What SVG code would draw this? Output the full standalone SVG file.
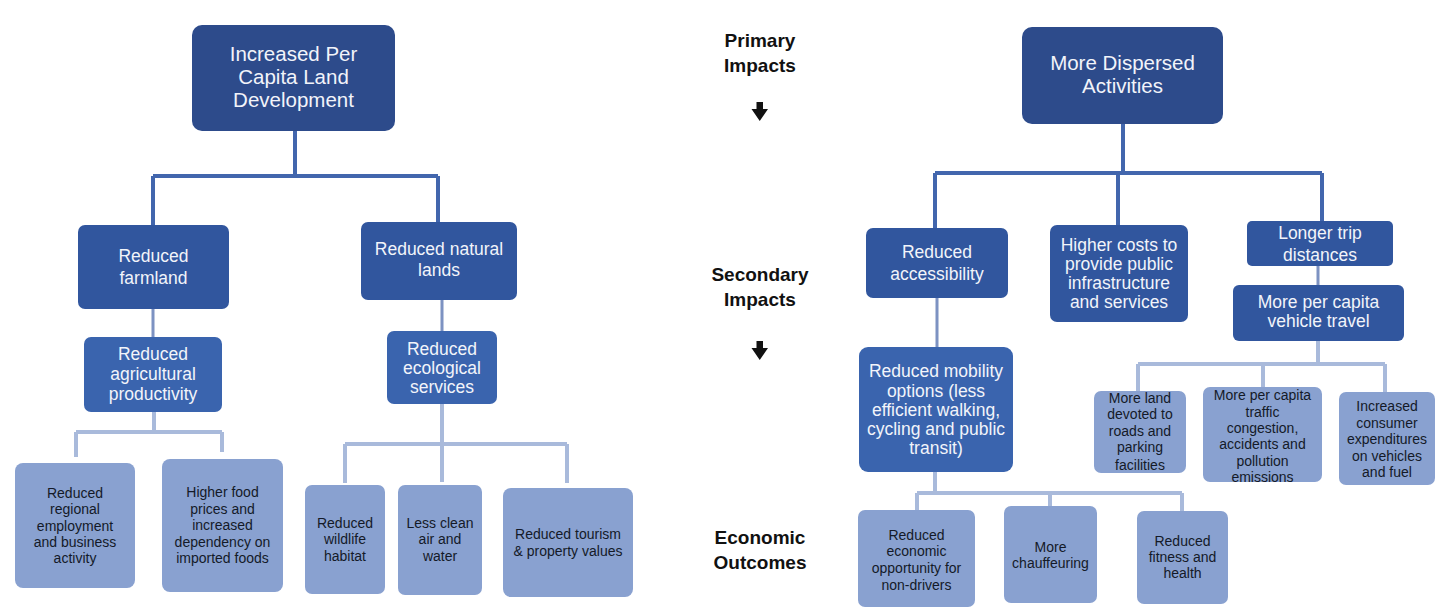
<svg xmlns="http://www.w3.org/2000/svg" width="1447" height="607" viewBox="0 0 1447 607">
<defs>
<style>
.l0{fill:#2d4b8b}
.l1{fill:#31569e}
.l2{fill:#3a64ae}
.lt{fill:#89a1d0}
.tw{font-family:"Liberation Sans",Arial,sans-serif;fill:#f2f4fa;text-anchor:middle;dominant-baseline:central}
.t20{font-size:20.5px}
.t17{font-size:17.5px}
.td{font-family:"Liberation Sans",Arial,sans-serif;font-size:14px;fill:#141a28;text-anchor:middle;dominant-baseline:central}
.lbl{font-family:"Liberation Sans",Arial,sans-serif;font-size:19px;font-weight:bold;fill:#111;text-anchor:middle;dominant-baseline:central}
.cd{stroke:#4266ad;stroke-width:4;fill:none}
.cm{stroke:#7d92c2;stroke-width:3;fill:none}
.cl{stroke:#a9badb;stroke-width:4;fill:none}
</style>
</defs>
<rect width="1447" height="607" fill="#fff"/>

<g id="connectors">
<path class="cd" d="M295 131V176M153 176H438M153 176V225M438 176V222"/>
<path class="cm" d="M153 309V337M442 300V331"/>
<path class="cl" d="M154 412V432M76 432H222M76 432V457M222 432V452"/>
<path class="cl" d="M442 404V444M345 444H567M345 444V483M442 444V482M567 444V483"/>
<path class="cd" d="M1123 124V173M935 173H1322M935 173V228M1118 173V225M1322 173V221"/>
<path class="cm" d="M1318 266V285M937 298V347"/>
<path class="cl" d="M1318 341V364M1138 364H1385M1138 364V391M1263 364V387M1385 364V392"/>
<path class="cl" d="M935 472V493M917 493H1182M917 493V510M1050 493V506M1182 493V511"/>
</g>

<g id="labels">
<text class="lbl" x="760" y="40">Primary</text>
<text class="lbl" x="760" y="65">Impacts</text>
<polygon points="756.5,102 763,102 763,109 768,109 759.75,121 751.5,109 756.5,109" fill="#111"/>
<text class="lbl" x="760" y="274">Secondary</text>
<text class="lbl" x="760" y="299">Impacts</text>
<polygon points="756.5,341 763,341 763,348 768,348 759.75,360 751.5,348 756.5,348" fill="#111"/>
<text class="lbl" x="760" y="537">Economic</text>
<text class="lbl" x="760" y="562">Outcomes</text>
</g>

<g id="n1"><rect class="l0" x="192" y="25" width="203" height="106" rx="10"/>
<text class="tw t20" x="293.5" y="53">Increased Per</text>
<text class="tw t20" x="293.5" y="76">Capita Land</text>
<text class="tw t20" x="293.5" y="99">Development</text></g>

<g id="n2"><rect class="l1" x="78" y="225" width="151" height="84" rx="7"/>
<text class="tw t17" x="153.5" y="256">Reduced</text>
<text class="tw t17" x="153.5" y="278">farmland</text></g>

<g id="n3"><rect class="l1" x="361" y="222" width="156" height="78" rx="7"/>
<text class="tw t17" x="439" y="249">Reduced natural</text>
<text class="tw t17" x="439" y="270">lands</text></g>

<g id="n4"><rect class="l2" x="84" y="337" width="138" height="75" rx="7"/>
<text class="tw t17" x="153" y="354">Reduced</text>
<text class="tw t17" x="153" y="374">agricultural</text>
<text class="tw t17" x="153" y="394">productivity</text></g>

<g id="n5"><rect class="lt" x="15" y="463" width="120" height="125" rx="8"/>
<text class="td" x="75" y="493">Reduced</text>
<text class="td" x="75" y="509">regional</text>
<text class="td" x="75" y="526">employment</text>
<text class="td" x="75" y="542">and business</text>
<text class="td" x="75" y="558">activity</text></g>

<g id="n6"><rect class="lt" x="162" y="459" width="121" height="133" rx="8"/>
<text class="td" x="222.5" y="492">Higher food</text>
<text class="td" x="222.5" y="509">prices and</text>
<text class="td" x="222.5" y="525">increased</text>
<text class="td" x="222.5" y="542">dependency on</text>
<text class="td" x="222.5" y="558">imported foods</text></g>

<g id="n7"><rect class="l2" x="387" y="331" width="110" height="73" rx="7"/>
<text class="tw t17" x="442" y="349">Reduced</text>
<text class="tw t17" x="442" y="368">ecological</text>
<text class="tw t17" x="442" y="387">services</text></g>

<g id="n8"><rect class="lt" x="305" y="485" width="80" height="109" rx="7"/>
<text class="td" x="345" y="523">Reduced</text>
<text class="td" x="345" y="539">wildlife</text>
<text class="td" x="345" y="556">habitat</text></g>

<g id="n9"><rect class="lt" x="398" y="485" width="84" height="110" rx="7"/>
<text class="td" x="440" y="523">Less clean</text>
<text class="td" x="440" y="539">air and</text>
<text class="td" x="440" y="556">water</text></g>

<g id="n10"><rect class="lt" x="503" y="488" width="130" height="109" rx="8"/>
<text class="td" x="568" y="534">Reduced tourism</text>
<text class="td" x="568" y="551">&amp; property values</text></g>

<g id="n11"><rect class="l0" x="1022" y="27" width="201" height="97" rx="10"/>
<text class="tw t20" x="1122.5" y="62">More Dispersed</text>
<text class="tw t20" x="1122.5" y="85">Activities</text></g>

<g id="n12"><rect class="l1" x="866" y="228" width="142" height="70" rx="7"/>
<text class="tw t17" x="937" y="252">Reduced</text>
<text class="tw t17" x="937" y="274">accessibility</text></g>

<g id="n13"><rect class="l1" x="1050" y="225" width="138" height="97" rx="7"/>
<text class="tw t17" x="1119" y="245">Higher costs to</text>
<text class="tw t17" x="1119" y="264">provide public</text>
<text class="tw t17" x="1119" y="283">infrastructure</text>
<text class="tw t17" x="1119" y="302">and services</text></g>

<g id="n14"><rect class="l1" x="1247" y="221" width="146" height="45" rx="5"/>
<text class="tw t17" x="1320" y="233">Longer trip</text>
<text class="tw t17" x="1320" y="255">distances</text></g>

<g id="n15"><rect class="l1" x="1233" y="285" width="171" height="56" rx="6"/>
<text class="tw t17" x="1318.5" y="302">More per capita</text>
<text class="tw t17" x="1318.5" y="321">vehicle travel</text></g>

<g id="n16"><rect class="lt" x="1094" y="391" width="92" height="82" rx="7"/>
<text class="td" x="1140" y="398">More land</text>
<text class="td" x="1140" y="414">devoted to</text>
<text class="td" x="1140" y="431">roads and</text>
<text class="td" x="1140" y="447">parking</text>
<text class="td" x="1140" y="465">facilities</text></g>

<g id="n17"><rect class="lt" x="1203" y="387" width="119" height="95" rx="7"/>
<text class="td" x="1262.5" y="395">More per capita</text>
<text class="td" x="1262.5" y="412">traffic</text>
<text class="td" x="1262.5" y="428">congestion,</text>
<text class="td" x="1262.5" y="444">accidents and</text>
<text class="td" x="1262.5" y="461">pollution</text>
<text class="td" x="1262.5" y="477">emissions</text></g>

<g id="n18"><rect class="lt" x="1339" y="392" width="96" height="93" rx="7"/>
<text class="td" x="1387" y="406">Increased</text>
<text class="td" x="1387" y="423">consumer</text>
<text class="td" x="1387" y="439">expenditures</text>
<text class="td" x="1387" y="456">on vehicles</text>
<text class="td" x="1387" y="472">and fuel</text></g>

<g id="n19"><rect class="l2" x="859" y="347" width="154" height="125" rx="9"/>
<text class="tw t17" x="936" y="371">Reduced mobility</text>
<text class="tw t17" x="936" y="391">options (less</text>
<text class="tw t17" x="936" y="410">efficient walking,</text>
<text class="tw t17" x="936" y="429">cycling and public</text>
<text class="tw t17" x="936" y="448">transit)</text></g>

<g id="n20"><rect class="lt" x="858" y="510" width="117" height="97" rx="7"/>
<text class="td" x="916.5" y="535">Reduced</text>
<text class="td" x="916.5" y="551">economic</text>
<text class="td" x="916.5" y="568">opportunity for</text>
<text class="td" x="916.5" y="585">non-drivers</text></g>

<g id="n21"><rect class="lt" x="1004" y="506" width="93" height="97" rx="7"/>
<text class="td" x="1050.5" y="547">More</text>
<text class="td" x="1050.5" y="563">chauffeuring</text></g>

<g id="n22"><rect class="lt" x="1137" y="511" width="91" height="93" rx="7"/>
<text class="td" x="1182.5" y="541">Reduced</text>
<text class="td" x="1182.5" y="557">fitness and</text>
<text class="td" x="1182.5" y="573">health</text></g>
</svg>
